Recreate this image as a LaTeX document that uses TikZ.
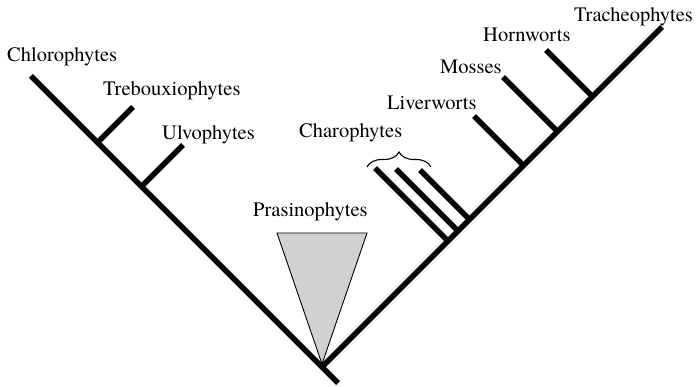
\documentclass[tikz,border=0pt]{standalone}
\usepackage{fontspec}
\setmainfont{TeX Gyre Termes}
\usetikzlibrary{decorations.pathreplacing}
\begin{document}
\begin{tikzpicture}[x=1pt,y=-1pt,
  branch/.style={line width=5.5pt,black},
  lbl/.style={anchor=base west,inner sep=0pt,font=\fontsize{20.5}{24}\selectfont},
  cone/.style={draw=black,line width=0.9pt,fill=black!18,line join=miter}]
\useasboundingbox (0,0) rectangle (698,387);
% tree points
\coordinate (root) at (322,367);
\coordinate (stem) at (338,383);
\coordinate (chlT) at (31,76);
\coordinate (treJ) at (97.5,142.5);
\coordinate (treT) at (133,107);
\coordinate (ulvJ) at (141.5,186.5);
\coordinate (ulvT) at (183,145);
\coordinate (traT) at (662,27);
\coordinate (horJ) at (592.5,96.5);
\coordinate (horT) at (546,50);
\coordinate (mosJ) at (557.5,131.5);
\coordinate (mosT) at (503,77);
\coordinate (livJ) at (523.5,165.5);
\coordinate (livT) at (474,116);
\coordinate (ch1J) at (448,241);
\coordinate (ch1T) at (375,168);
\coordinate (ch2J) at (458,231);
\coordinate (ch2T) at (396,169);
\coordinate (ch3J) at (469.5,219.5);
\coordinate (ch3T) at (420,170);
\coordinate (triL) at (277,233);
\coordinate (triR) at (367,233);
\coordinate (triA) at (322,364);
\coordinate (brL) at (367,167);
\coordinate (brR) at (431,167);
% Prasinophytes cone
\draw[cone] (triL) -- (triR) -- (triA) -- cycle;
% main lines
\draw[branch] (chlT) -- (stem);
\draw[branch] (root) -- (traT);
% side branches
\draw[branch] (treJ) -- (treT);
\draw[branch] (ulvJ) -- (ulvT);
\draw[branch] (horJ) -- (horT);
\draw[branch] (mosJ) -- (mosT);
\draw[branch] (livJ) -- (livT);
\draw[branch] (ch1J) -- (ch1T);
\draw[branch] (ch2J) -- (ch2T);
\draw[branch] (ch3J) -- (ch3T);
% brace
\draw[line width=1.1pt,decorate,decoration={brace,amplitude=15pt}] (brL) -- (brR);
% labels
\node[lbl] (chl) at (7,61.5) {Chlorophytes};
\node[lbl] (tre) at (103,95.5) {Trebouxiophytes};
\node[lbl] (ulv) at (162,140) {Ulvophytes};
\node[lbl] (pra) at (253,217) {Prasinophytes};
\node[lbl] (cha) at (299,138) {Charophytes};
\node[lbl] (liv) at (387,110) {Liverworts};
\node[lbl] (mos) at (440,74) {Mosses};
\node[lbl] (hor) at (483,42) {Hornworts};
\node[lbl] (tra) at (574,22) {Tracheophytes};
\end{tikzpicture}
\end{document}
